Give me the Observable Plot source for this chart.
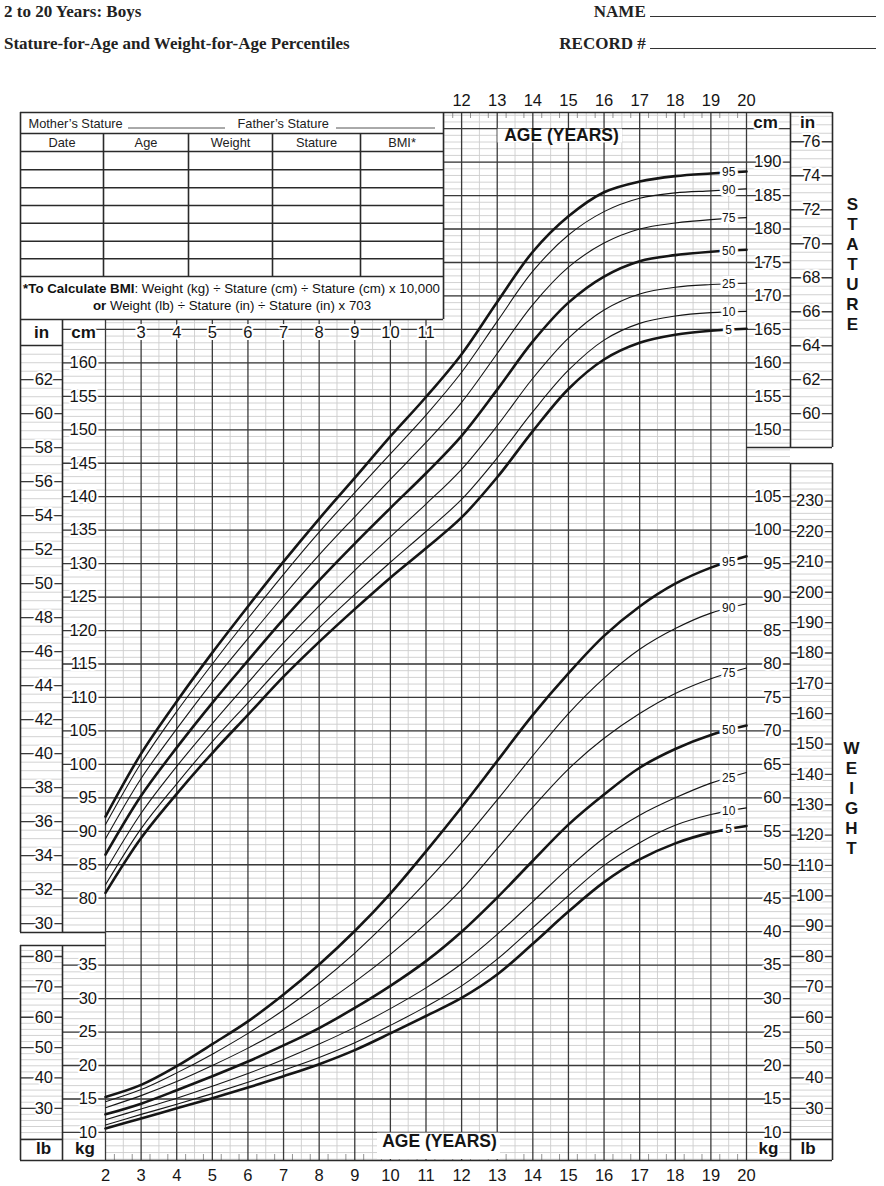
<!DOCTYPE html>
<html><head><meta charset="utf-8">
<script src="https://cdn.jsdelivr.net/npm/d3@7"></script>
<script src="https://cdn.jsdelivr.net/npm/@observablehq/plot@0.6"></script>
<style>
body{margin:0;background:#fff;}
#hdr{position:relative;width:884px;height:60px;font-family:"Liberation Serif","Times New Roman",serif;font-weight:bold;font-size:17px;color:#222;}
#hdr div{position:absolute;white-space:nowrap;}
.ul{display:inline-block;border-bottom:1.2px solid #333;width:226px;height:13px;vertical-align:baseline;}
#chart svg{display:block;}
</style></head>
<body>
<div id="hdr">
<div style="left:4px;top:2px">2 to 20 Years: Boys</div>
<div style="left:4px;top:34px">Stature-for-Age and Weight-for-Age Percentiles</div>
<div style="right:8px;top:2px">NAME <span class="ul"></span></div>
<div style="right:8px;top:34px">RECORD # <span class="ul"></span></div>
</div>
<div id="chart"></div>
<script>
// ---------------- data ----------------
const ages = [2,3,4,5,6,7,8,9,10,11,12,13,14,15,16,17,18,19,20];
const percentiles = [5,10,25,50,75,90,95];
// stature (cm)
const stature5  = [80.8, 89.0, 95.6,101.7,107.4,113.1,118.3,123.2,127.9,132.3,136.9,142.9,149.8,156.1,160.5,163.0,164.2,164.8,165.1];
const stature10 = [82.0, 90.4, 97.1,103.4,109.2,115.0,120.4,125.4,130.2,134.8,139.6,145.8,152.7,158.9,163.4,165.9,167.0,167.5,167.7];
const stature25 = [84.1, 92.7, 99.7,106.1,112.2,118.2,123.7,129.0,134.0,138.9,144.1,150.6,157.7,163.7,167.9,170.3,171.3,171.7,171.9];
const stature50 = [86.5, 95.3,102.5,109.2,115.5,121.7,127.5,133.0,138.3,143.5,149.1,156.0,163.2,169.0,172.9,175.2,176.1,176.6,176.9];
const stature75 = [88.9, 97.9,105.3,112.3,118.8,125.2,131.3,137.0,142.6,148.1,154.1,161.4,168.7,174.3,177.9,180.0,180.9,181.4,181.7];
const stature90 = [91.0,100.2,107.9,115.0,121.8,128.4,134.7,140.6,146.4,152.2,158.6,166.2,173.7,179.1,182.6,184.6,185.4,185.7,186.0];
const stature95 = [92.2,101.6,109.4,116.7,123.6,130.3,136.7,142.8,149.0,154.9,161.3,169.1,176.6,181.9,185.5,187.1,187.9,188.3,188.6];
// weight (kg)
const weight5  = [10.6,12.1,13.6,15.1,16.7,18.4,20.2,22.3,24.8,27.4,30.1,33.6,38.2,43.0,47.4,50.8,53.2,54.8,55.8];
const weight10 = [11.1,12.7,14.2,15.8,17.5,19.3,21.2,23.4,26.0,28.8,31.9,35.9,40.6,45.4,49.9,53.3,55.9,57.5,58.5];
const weight25 = [11.9,13.5,15.1,16.9,18.8,20.9,23.2,25.7,28.5,31.6,35.2,39.6,44.5,49.5,54.0,57.4,60.0,62.2,63.8];
const weight50 = [12.7,14.3,16.3,18.4,20.6,23.0,25.6,28.6,31.9,35.6,40.0,45.1,50.6,56.0,60.5,64.5,67.3,69.4,70.8];
const weight75 = [13.7,15.5,17.6,20.0,22.6,25.5,28.8,32.5,36.6,41.2,46.3,52.4,58.6,64.3,68.9,72.6,75.6,77.8,79.4];
const weight90 = [14.6,16.4,18.9,21.7,24.8,28.3,32.3,36.8,41.9,47.4,53.3,59.7,66.3,72.6,77.9,82.2,85.3,87.6,89.0];
const weight95 = [15.3,17.1,19.9,23.2,26.6,30.6,35.1,40.1,45.7,52.0,58.6,65.5,72.4,78.6,84.2,88.6,92.0,94.4,96.1];
const thickPercentiles = [5,50,95];
// tick labels
const topAgeLabels = [12,13,14,15,16,17,18,19,20];
const bottomAgeLabels = [2,3,4,5,6,7,8,9,10,11,12,13,14,15,16,17,18,19,20];
const rowAgeLabels = [3,4,5,6,7,8,9,10,11];
const cmLeftTicks = [80,85,90,95,100,105,110,115,120,125,130,135,140,145,150,155,160];
const inLeftTicks = [30,32,34,36,38,40,42,44,46,48,50,52,54,56,58,60,62];
const cmRightTicks = [150,155,160,165,170,175,180,185,190];
const inRightTicks = [60,62,64,66,68,70,72,74,76];
const kgLeftTicks = [10,15,20,25,30,35];
const lbLeftTicks = [30,40,50,60,70,80];
const kgRightTicks = [10,15,20,25,30,35,40,45,50,55,60,65,70,75,80,85,90,95,100,105];
const lbRightTicks = [30,40,50,60,70,80,90,100,110,120,130,140,150,160,170,180,190,200,210,220,230];
const tableHeaders = ["Date","Age","Weight","Stature","BMI*"];
const parentFields = ["Mother\u2019s Stature", "Father\u2019s Stature"];

// ---------------- layout helpers ----------------
const H = 60;                      // header height above svg
const X0 = 105, XS = 35.611;       // page x of age 2, px per year
const YREF = 161.6, US = 6.692;    // page y of 190 units, px per unit
const ax = px => 2 + (px - X0) / XS;        // page x -> age units
const uy = py => 190 - (py - YREF) / US;    // page y -> chart units
const KG = kg => kg + 35;
const IN = i => i * 2.54;
const LB = lb => lb * 0.45359237 + 35;

const FONT = "'Liberation Sans', Arial, Helvetica, sans-serif";
const light = "#cdcdcd", dark = "#3a3a3a", ink = "#151515", frame = "#2a2a2a";

// ---------------- grid ----------------
const hLight = [];
for (let u = 41; u <= 197; u++) hLight.push({u, x1: 2, x2: ax(790)});
for (let u = 75; u <= 163; u++) hLight.push({u, x1: ax(62), x2: 2});
for (let u = 44; u <= 72; u++) hLight.push({u, x1: ax(62), x2: 2});
for (let i = 30; i <= 63.5; i += 0.5) hLight.push({u: IN(i), x1: ax(20), x2: ax(62)});
for (let i = 58.5; i <= 77.5; i += 0.5) hLight.push({u: IN(i), x1: ax(790), x2: ax(832)});
for (let lb = 20; lb <= 82; lb += 2) hLight.push({u: LB(lb), x1: ax(20), x2: ax(62)});
for (let lb = 20; lb <= 240; lb += 2) hLight.push({u: LB(lb), x1: ax(790), x2: ax(832)});

const hDark = [];
for (let u = 45; u <= 195; u += 5) hDark.push({u, x1: 2, x2: ax(790)});
for (let u = 80; u <= 165; u += 5) hDark.push({u, x1: ax(62), x2: 2});
for (let u = 45; u <= 70; u += 5) hDark.push({u, x1: ax(62), x2: 2});
inLeftTicks.forEach(i => hDark.push({u: IN(i), x1: ax(20), x2: ax(62)}));
inRightTicks.forEach(i => hDark.push({u: IN(i), x1: ax(790), x2: ax(832)}));
lbLeftTicks.forEach(l => hDark.push({u: LB(l), x1: ax(20), x2: ax(62)}));
lbRightTicks.forEach(l => hDark.push({u: LB(l), x1: ax(790), x2: ax(832)}));

const uTop = uy(112), uBot = uy(1160);
const vLight = d3.range(2.5, 20, 1).map(a => ({a, y1: uBot, y2: uTop}));
const vDark = d3.range(2, 21).map(a => ({a, y1: uBot, y2: uTop}));
const qTicks = [
  ...d3.range(11.75, 20, 0.5).map(a => ({a, y1: uy(118), y2: uTop})),
  ...d3.range(2.25, 20, 0.5).map(a => ({a, y1: uBot, y2: uy(1154)}))
];

// ---------------- frames ----------------
const hseg = (py, p1, p2) => ({u: uy(py), x1: ax(p1), x2: ax(p2)});
const vseg = (px, p1, p2) => ({a: ax(px), y1: uy(p1), y2: uy(p2)});
const tableRows = [133, 151, 169.3, 187.3, 205, 222.7, 240.7, 258.3, 276];
const tableCols = [103, 188, 272, 360];
const frameH = [hseg(112,20,832), hseg(1160,20,832), hseg(345,20,62), hseg(932,20,105),
  hseg(945,20,105), hseg(1139,20,62), hseg(447,746,832), hseg(463,790,832), hseg(1139,790,832),
  hseg(319,20,443), ...tableRows.map(r => hseg(r,20,443))];
const frameV = [vseg(20,112,932), vseg(20,945,1160), vseg(62,319,932), vseg(62,945,1160),
  vseg(443,112,319), vseg(790,112,447), vseg(790,463,1160), vseg(832,112,447), vseg(832,463,1160),
  ...tableCols.map(c => vseg(c,133,276))];
const underlines = [hseg(127.5,128,225), hseg(127.5,336,435)];

// ---------------- curves ----------------
const statureRows = [stature5, stature10, stature25, stature50, stature75, stature90, stature95];
const weightRows = [weight5, weight10, weight25, weight50, weight75, weight90, weight95];
const curves = [];
const curveLabels = [];
percentiles.forEach((p, k) => {
  const thick = thickPercentiles.includes(p);
  ages.forEach((a, i) => {
    curves.push({key: "s" + p, p, thick, age: a, u: statureRows[k][i]});
    curves.push({key: "w" + p, p, thick, age: a, u: KG(weightRows[k][i])});
  });
  const n = ages.length;
  curveLabels.push({age: 19.5, u: (statureRows[k][n-2] + statureRows[k][n-1]) / 2, t: String(p)});
  curveLabels.push({age: 19.5, u: KG((weightRows[k][n-2] + weightRows[k][n-1]) / 2), t: String(p)});
});

// ---------------- text ----------------
const axisText = [
  ...cmLeftTicks.map(v => ({a: ax(96.5), u: v, t: v})),
  ...kgLeftTicks.map(v => ({a: ax(96.5), u: KG(v), t: v})),
  ...inLeftTicks.map(v => ({a: ax(52.5), u: IN(v), t: v})),
  ...lbLeftTicks.map(v => ({a: ax(52.5), u: LB(v), t: v})),
  ...cmRightTicks.map(v => ({a: ax(781), u: v, t: v})),
  ...kgRightTicks.map(v => ({a: ax(781), u: KG(v), t: v})),
  ...inRightTicks.map(v => ({a: ax(820), u: IN(v), t: v})),
  ...lbRightTicks.map(v => ({a: ax(823), u: LB(v), t: v}))
];
const unitHeaders = [
  {a: ax(765), u: uy(122), t: "cm"}, {a: ax(807), u: uy(122), t: "in"},
  {a: ax(768), u: uy(1148), t: "kg"}, {a: ax(807.5), u: uy(1148), t: "lb"},
  {a: ax(41), u: uy(332), t: "in"}, {a: ax(83), u: uy(332), t: "cm"},
  {a: ax(43), u: uy(1148), t: "lb"}, {a: ax(84.5), u: uy(1148), t: "kg"}
];
const sideWords = [
  ..."STATURE".split("").map((c, i) => ({a: ax(852), u: uy(204 + i * 20), t: c})),
  ..."WEIGHT".split("").map((c, i) => ({a: ax(851), u: uy(748 + i * 20), t: c}))
];
const parentText = parentFields.map((t, i) => ({a: ax([28, 237][i]), u: uy(123), t}));
const colLeft = [20,103,188,272,360], colRight = [103,188,272,360,443];
const headerText = tableHeaders.map((t, i) => ({a: ax((colLeft[i] + colRight[i]) / 2), u: uy(142.5), t}));
const bmiText = [
  {a: ax(231), u: uy(288.5), t: "*To Calculate BMI: Weight (kg) \u00f7 Stature (cm) \u00f7 Stature (cm) x 10,000"},
  {a: ax(231.5), u: uy(305), t: "or Weight (lb) \u00f7 Stature (in) \u00f7 Stature (in) x 703"}
];
const whiteBoxes = [
  {x1: ax(497.5), x2: ax(622), y1: uy(142.5), y2: uy(128.6)},
  {x1: ax(377), x2: ax(500), y1: uy(1159), y2: uy(1132.6)}
];

const chart = Plot.plot({
  width: 884,
  height: 1186 - H,
  marginTop: 0, marginBottom: 0, marginLeft: 0, marginRight: 0,
  x: {domain: [2, 20], range: [X0, X0 + 18 * XS], axis: null},
  y: {domain: [45, 190], range: [YREF - H + 145 * US, YREF - H], axis: null},
  style: {fontFamily: FONT, background: "white"},
  marks: [
    Plot.ruleY(hLight, {y: "u", x1: "x1", x2: "x2", stroke: light, strokeWidth: 0.9}),
    Plot.ruleX(vLight, {x: "a", y1: "y1", y2: "y2", stroke: light, strokeWidth: 0.9}),
    Plot.ruleX(qTicks, {x: "a", y1: "y1", y2: "y2", stroke: "#777", strokeWidth: 0.8}),
    Plot.ruleY(hDark, {y: "u", x1: "x1", x2: "x2", stroke: dark, strokeWidth: 1.3}),
    Plot.ruleX(vDark, {x: "a", y1: "y1", y2: "y2", stroke: dark, strokeWidth: 1.3}),
    // table background
    Plot.rect([{}], {x1: ax(20), x2: ax(443), y1: uy(319), y2: uy(112), fill: "white"}),
    // percentile curves
    Plot.line(curves.filter(d => !d.thick), {x: "age", y: "u", z: "key", curve: "catmull-rom", stroke: ink, strokeWidth: 1.1}),
    Plot.line(curves.filter(d => d.thick), {x: "age", y: "u", z: "key", curve: "catmull-rom", stroke: ink, strokeWidth: 2.6}),
    // frames
    Plot.ruleY(frameH, {y: "u", x1: "x1", x2: "x2", stroke: frame, strokeWidth: 1.6}),
    Plot.ruleX(frameV, {x: "a", y1: "y1", y2: "y2", stroke: frame, strokeWidth: 1.6}),
    Plot.ruleY(underlines, {y: "u", x1: "x1", x2: "x2", stroke: "#555", strokeWidth: 1}),
    Plot.rect(whiteBoxes, {x1: "x1", x2: "x2", y1: "y1", y2: "y2", fill: "white"}),
    // labels
    Plot.text(curveLabels, {x: "age", y: "u", text: "t", fontSize: 12, fill: ink, stroke: "white", strokeWidth: 6, paintOrder: "stroke"}),
    Plot.text(axisText, {x: "a", y: "u", text: "t", textAnchor: "end", fontSize: 16.5, fill: ink, stroke: "white", strokeWidth: 4, paintOrder: "stroke"}),
    Plot.text(unitHeaders, {x: "a", y: "u", text: "t", fontSize: 17, fontWeight: "bold", fill: ink, stroke: "white", strokeWidth: 4, paintOrder: "stroke"}),
    Plot.text(sideWords, {x: "a", y: "u", text: "t", fontSize: 17, fontWeight: "bold", fill: ink}),
    Plot.text(topAgeLabels, {x: d => d, y: uy(100), text: d => d, fontSize: 16.5, fill: ink}),
    Plot.text(bottomAgeLabels, {x: d => d, y: uy(1175), text: d => d, fontSize: 16.5, fill: ink}),
    Plot.text(rowAgeLabels, {x: d => d, y: 165, dy: 3, text: d => d, fontSize: 16.5, fill: ink, stroke: "white", strokeWidth: 4, paintOrder: "stroke"}),
    Plot.text(["AGE (YEARS)"], {x: ax(561), y: uy(134.5), text: d => d, fontSize: 17.5, fontWeight: "bold", fill: ink}),
    Plot.text(["AGE (YEARS)"], {x: ax(439), y: uy(1141), text: d => d, fontSize: 17.5, fontWeight: "bold", fill: ink}),
    Plot.text(parentText, {x: "a", y: "u", text: "t", textAnchor: "start", fontSize: 12.8, fill: "#222"}),
    Plot.text(headerText, {x: "a", y: "u", text: "t", textAnchor: "middle", fontSize: 12.8, fill: "#222"}),
    Plot.text(bmiText, {x: "a", y: "u", text: "t", fontSize: 13.3, fill: "#111"})
  ]
});
document.getElementById("chart").appendChild(chart);

// bold the leading words of the BMI note
chart.querySelectorAll("text").forEach(el => {
  const s = el.textContent;
  const parts = s.startsWith("*To Calculate BMI") ? ["*To Calculate BMI", s.slice(17)]
              : s.startsWith("or Weight (lb)") ? ["or", s.slice(2)] : null;
  if (!parts) return;
  el.textContent = "";
  const b = document.createElementNS("http://www.w3.org/2000/svg", "tspan");
  b.setAttribute("font-weight", "bold"); b.textContent = parts[0];
  const r = document.createElementNS("http://www.w3.org/2000/svg", "tspan");
  r.textContent = parts[1];
  el.appendChild(b); el.appendChild(r);
});
</script>
</body></html>
